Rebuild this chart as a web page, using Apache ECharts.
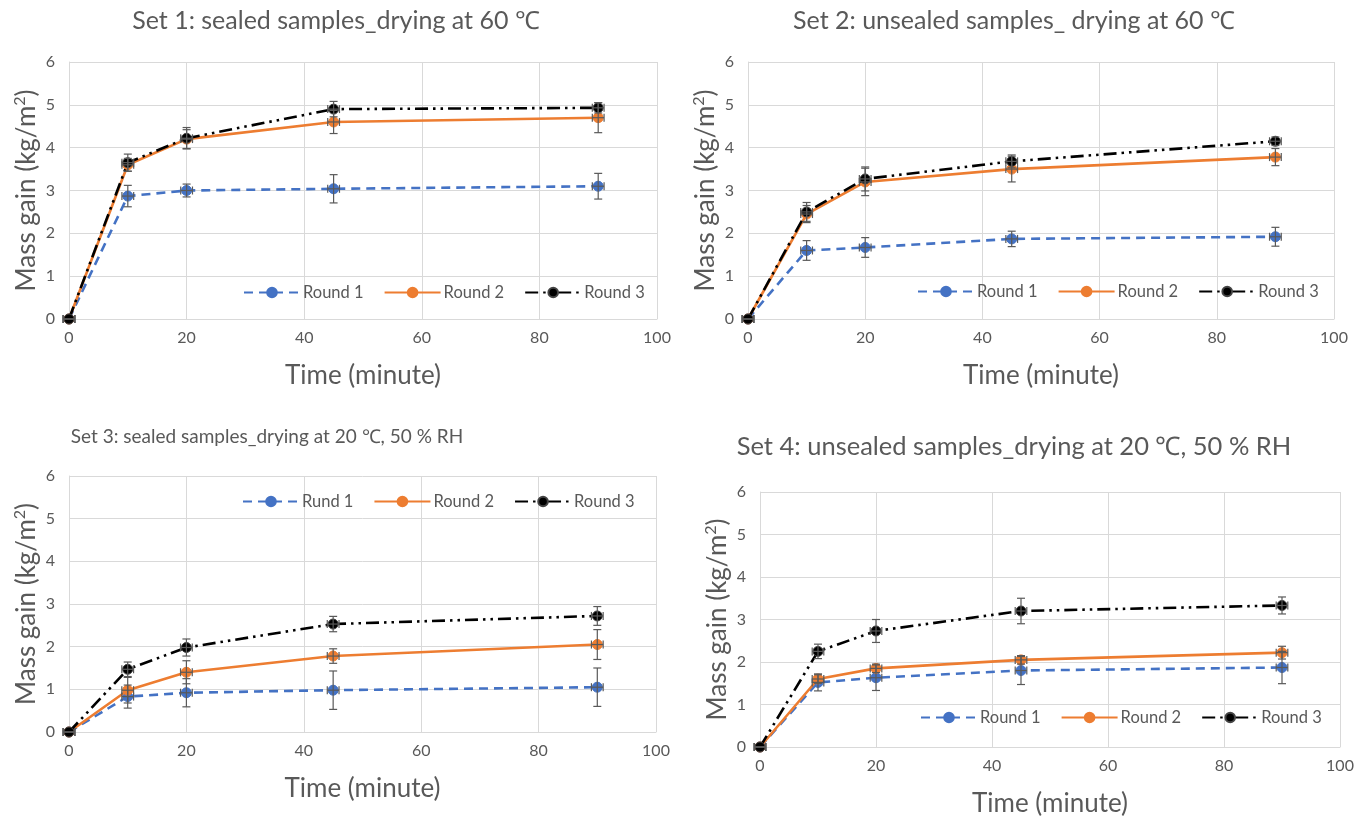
<!DOCTYPE html>
<html>
<head>
<meta charset="utf-8">
<script src="https://cdn.jsdelivr.net/npm/echarts@6/dist/echarts.min.js"></script>
<style>html,body{margin:0;padding:0;background:#fff}#c{width:1369px;height:821px}</style>
</head>
<body>
<div id="c"></div>
<script>
// ---- data ----
var time = [0, 10, 20, 45, 90];
var xErr = [1, 1, 1, 1, 1];
var xTicks = [0, 20, 40, 60, 80, 100];
var yTicks = [0, 1, 2, 3, 4, 5, 6];

var titles = [
  'Set 1: sealed samples_drying at 60 \u2103',
  'Set 2: unsealed samples_ drying at 60 \u2103',
  'Set 3: sealed samples_drying at 20 \u2103, 50 % RH',
  'Set 4: unsealed samples_drying at 20 \u2103, 50 % RH'
];
var legendNames = [
  ['Round 1', 'Round 2', 'Round 3'],
  ['Round 1', 'Round 2', 'Round 3'],
  ['Rund 1', 'Round 2', 'Round 3'],
  ['Round 1', 'Round 2', 'Round 3']
];

var s1r1 = [0, 2.87, 3.00, 3.04, 3.10];  var s1r1e = [0, 0.25, 0.15, 0.33, 0.30];
var s1r2 = [0, 3.60, 4.20, 4.60, 4.70];  var s1r2e = [0, 0.15, 0.22, 0.27, 0.35];
var s1r3 = [0, 3.65, 4.22, 4.90, 4.93];  var s1r3e = [0, 0.20, 0.25, 0.18, 0.12];

var s2r1 = [0, 1.60, 1.67, 1.87, 1.92];  var s2r1e = [0, 0.23, 0.23, 0.18, 0.22];
var s2r2 = [0, 2.45, 3.20, 3.50, 3.78];  var s2r2e = [0, 0.20, 0.32, 0.30, 0.20];
var s2r3 = [0, 2.50, 3.27, 3.68, 4.15];  var s2r3e = [0, 0.22, 0.28, 0.15, 0.10];

var s3r1 = [0, 0.83, 0.92, 0.98, 1.05];  var s3r1e = [0, 0.27, 0.33, 0.45, 0.45];
var s3r2 = [0, 0.98, 1.40, 1.78, 2.05];  var s3r2e = [0, 0.30, 0.27, 0.17, 0.35];
var s3r3 = [0, 1.47, 1.98, 2.53, 2.72];  var s3r3e = [0, 0.17, 0.20, 0.18, 0.22];

var s4r1 = [0, 1.52, 1.63, 1.80, 1.87];  var s4r1e = [0, 0.20, 0.30, 0.33, 0.38];
var s4r2 = [0, 1.60, 1.85, 2.05, 2.22];  var s4r2e = [0, 0.10, 0.10, 0.10, 0.15];
var s4r3 = [0, 2.25, 2.73, 3.20, 3.33];  var s4r3e = [0, 0.17, 0.27, 0.30, 0.20];

var panels = [
  [[s1r1, s1r1e], [s1r2, s1r2e], [s1r3, s1r3e]],
  [[s2r1, s2r1e], [s2r2, s2r2e], [s2r3, s2r3e]],
  [[s3r1, s3r1e], [s3r2, s3r2e], [s3r3, s3r3e]],
  [[s4r1, s4r1e], [s4r2, s4r2e], [s4r3, s4r3e]]
];

// ---- layout / style ----
var FONT = 'Lato, "Open Sans", sans-serif';
var TXT = '#595959';
var grids = [
  {left: 69, top: 62, width: 588, height: 257},
  {left: 748, top: 62, width: 586, height: 257},
  {left: 69, top: 476, width: 587, height: 256},
  {left: 760, top: 492, width: 580, height: 255}
];
var titlePos = [
  {x: 336, y: 8, size: 25},
  {x: 1014, y: 8, size: 25},
  {x: 267, y: 427, size: 19},
  {x: 1014, y: 434, size: 25.5}
];
var legendPos = [
  {x: 243, y: 284}, {x: 917, y: 283}, {x: 242, y: 493}, {x: 920, y: 709}
];
var colors = ['#4472C4', '#ED7D31', '#000000'];
var dashes = [[9, 6], 'solid', [13, 5, 2.5, 5, 2.5, 5]];

var option = {
  animation: false,
  backgroundColor: '#fff',
  textStyle: {fontFamily: FONT},
  title: [], legend: [], grid: [], xAxis: [], yAxis: [], series: []
};

function errRender(params, api) {
  var x = api.value(0), y = api.value(1), e = api.value(2), xe = api.value(3);
  var c = api.coord([x, y]);
  var top = api.coord([x, y + e]);
  var bot = api.coord([x, y - e]);
  var lft = api.coord([x - xe, y]);
  var rgt = api.coord([x + xe, y]);
  var cap = 4;
  var st = {stroke: '#595959', lineWidth: 1.2};
  var kids = [];
  if (e > 0) {
    kids.push({type: 'line', shape: {x1: c[0], y1: top[1], x2: c[0], y2: bot[1]}, style: st});
    kids.push({type: 'line', shape: {x1: c[0] - cap, y1: top[1], x2: c[0] + cap, y2: top[1]}, style: st});
    kids.push({type: 'line', shape: {x1: c[0] - cap, y1: bot[1], x2: c[0] + cap, y2: bot[1]}, style: st});
  }
  kids.push({type: 'line', shape: {x1: lft[0], y1: c[1], x2: rgt[0], y2: c[1]}, style: st});
  kids.push({type: 'line', shape: {x1: lft[0], y1: c[1] - cap, x2: lft[0], y2: c[1] + cap}, style: st});
  kids.push({type: 'line', shape: {x1: rgt[0], y1: c[1] - cap, x2: rgt[0], y2: c[1] + cap}, style: st});
  return {type: 'group', children: kids};
}

for (var p = 0; p < 4; p++) {
  var g = grids[p];
  option.grid.push({left: g.left, top: g.top, width: g.width, height: g.height, containLabel: false});
  option.title.push({
    text: titles[p], left: titlePos[p].x, top: titlePos[p].y, textAlign: 'center', padding: 0,
    textStyle: {fontFamily: FONT, fontSize: titlePos[p].size, fontWeight: 'normal', color: TXT}
  });
  option.legend.push({
    data: legendNames[p], left: legendPos[p].x, top: legendPos[p].y,
    itemWidth: 56, itemHeight: 12, itemGap: 20, padding: 0,
    textStyle: {fontFamily: FONT, fontSize: 16.5, color: TXT, padding: [0, 0, 0, -2]}
  });
  option.xAxis.push({
    type: 'value', gridIndex: p, min: 0, max: 100, interval: 20,
    name: 'Time (minute)', nameLocation: 'middle', nameGap: 44,
    nameTextStyle: {fontFamily: FONT, fontSize: 26, color: TXT},
    axisLine: {show: true, lineStyle: {color: '#D9D9D9', width: 1}},
    axisTick: {show: false},
    axisLabel: {fontFamily: FONT, fontSize: 16, color: TXT, margin: 11},
    splitLine: {show: true, lineStyle: {color: '#D9D9D9', width: 1}}
  });
  option.yAxis.push({
    type: 'value', gridIndex: p, min: 0, max: 6, interval: 1,
    name: 'Mass gain (kg/m{sup|2})', nameLocation: 'middle', nameGap: 27,
    nameTextStyle: {fontFamily: FONT, fontSize: 26, color: TXT,
      rich: {sup: {fontFamily: FONT, fontSize: 16, color: TXT, verticalAlign: 'top', lineHeight: 30}}},
    axisLine: {show: true, lineStyle: {color: '#D9D9D9', width: 1}},
    axisTick: {show: false},
    axisLabel: {fontFamily: FONT, fontSize: 16, color: TXT, margin: 14},
    splitLine: {show: true, lineStyle: {color: '#D9D9D9', width: 1}}
  });
  for (var r = 0; r < 3; r++) {
    var vals = panels[p][r][0], errs = panels[p][r][1];
    var pts = [], eb = [];
    for (var i = 0; i < time.length; i++) {
      pts.push([time[i], vals[i]]);
      eb.push([time[i], vals[i], errs[i], xErr[i]]);
    }
    option.series.push({
      type: 'line', name: legendNames[p][r], xAxisIndex: p, yAxisIndex: p,
      data: pts, symbol: 'circle', symbolSize: 10, z: 2 + r,
      itemStyle: {color: colors[r], borderColor: r === 2 ? '#444' : colors[r], borderWidth: 1},
      lineStyle: {color: colors[r], width: 2.6, type: dashes[r]}
    });
    option.series.push({
      type: 'custom', name: 'err' + p + r, xAxisIndex: p, yAxisIndex: p,
      data: eb, renderItem: errRender, z: 6, silent: true
    });
  }
}

var chart = echarts.init(document.getElementById('c'), null, {renderer: 'canvas'});
chart.setOption(option);
</script>
</body>
</html>
